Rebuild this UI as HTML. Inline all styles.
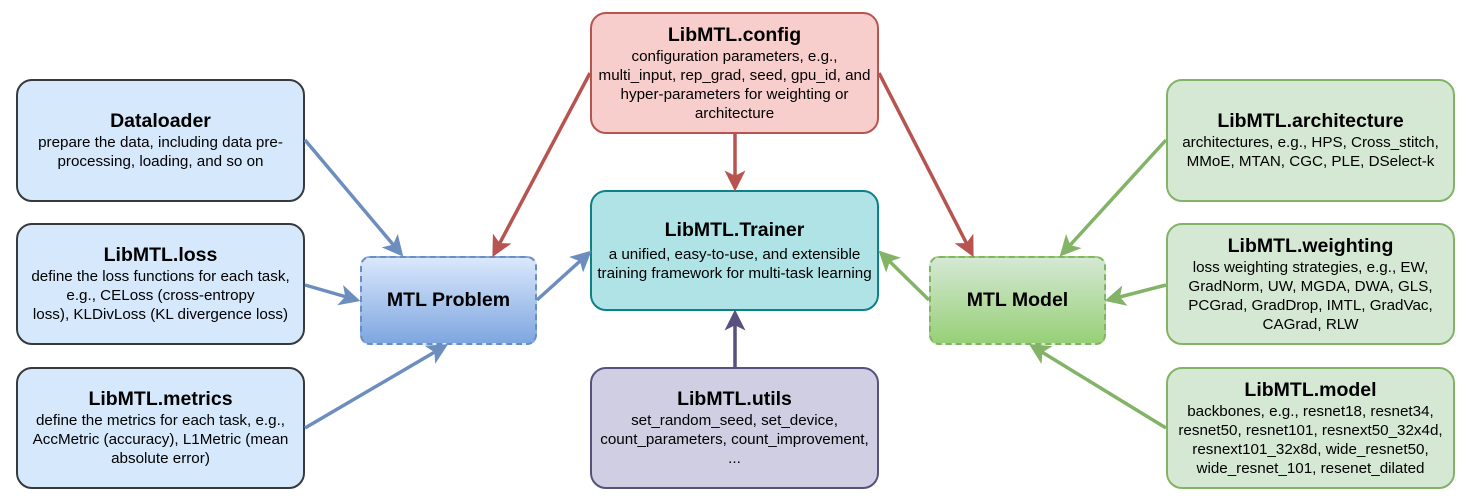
<!DOCTYPE html>
<html><head><meta charset="utf-8"><style>
body{margin:0;width:1466px;height:498px;background:#fff;position:relative;overflow:hidden;font-family:"Liberation Sans",Arial,sans-serif}
.b{position:absolute;box-sizing:border-box;border:2px solid #333;border-radius:16px;display:flex;flex-direction:column;justify-content:center;align-items:center;text-align:center;color:#000;font-size:15.2px;line-height:19px;padding:0 2px;white-space:nowrap}
.b h{display:block;font-weight:bold;font-size:19.5px;line-height:23px;margin-bottom:0px}
.blue{background:#d6e8fb;border-color:#36393d}
.green{background:#d5e8d4;border-color:#82b366}
.red{background:#f8cecc;border-color:#b85450}
.teal{background:#b0e3e6;border-color:#0e8088}
.pur{background:#d0cee2;border-color:#56517e}
svg{position:absolute;left:0;top:0}
</style></head><body>
<div class="b blue" style="left:16px;top:79px;width:289px;height:123px"><h>Dataloader</h>prepare the data, including data pre-<br>processing, loading, and so on</div>
<div class="b blue" style="left:16px;top:223px;width:289px;height:122px"><h>LibMTL.loss</h>define the loss functions for each task,<br>e.g., CELoss (cross-entropy<br>loss), KLDivLoss (KL divergence loss)</div>
<div class="b blue" style="left:16px;top:367px;width:289px;height:122px"><h>LibMTL.metrics</h>define the metrics for each task, e.g.,<br>AccMetric (accuracy), L1Metric (mean<br>absolute error)</div>
<div class="b" style="left:360px;top:256px;width:177px;height:89px;border:2px dashed #6c8ebf;border-radius:10px;background:linear-gradient(#dae8fc,#7ea6e0)"><h style="font-size:19.5px">MTL Problem</h></div>
<div class="b red" style="left:590px;top:12px;width:289px;height:122px"><h>LibMTL.config</h>configuration parameters, e.g.,<br>multi_input, rep_grad, seed, gpu_id, and<br>hyper-parameters for weighting or<br>architecture</div>
<div class="b teal" style="left:590px;top:190px;width:289px;height:121px"><h style="margin-bottom:3px">LibMTL.Trainer</h>a unified, easy-to-use, and extensible<br>training framework for multi-task learning</div>
<div class="b pur" style="left:590px;top:367px;width:289px;height:122px"><h>LibMTL.utils</h>set_random_seed, set_device,<br>count_parameters, count_improvement,<br>...</div>
<div class="b" style="left:929px;top:256px;width:177px;height:89px;border:2px dashed #82b366;border-radius:10px;background:linear-gradient(#d5e8d4,#97d077)"><h style="font-size:19.5px">MTL Model</h></div>
<div class="b green" style="left:1166px;top:79px;width:289px;height:123px"><h>LibMTL.architecture</h>architectures, e.g., HPS, Cross_stitch,<br>MMoE, MTAN, CGC, PLE, DSelect-k</div>
<div class="b green" style="left:1166px;top:223px;width:289px;height:122px"><h>LibMTL.weighting</h>loss weighting strategies, e.g., EW,<br>GradNorm, UW, MGDA, DWA, GLS,<br>PCGrad, GradDrop, IMTL, GradVac,<br>CAGrad, RLW</div>
<div class="b green" style="left:1166px;top:367px;width:289px;height:122px"><h>LibMTL.model</h>backbones, e.g., resnet18, resnet34,<br>resnet50, resnet101, resnext50_32x4d,<br>resnext101_32x8d, wide_resnet50,<br>wide_resnet_101, resenet_dilated</div>
<svg width="1466" height="498">
<defs>
<marker id="mb" markerWidth="6" markerHeight="6" refX="5" refY="3" orient="auto" markerUnits="strokeWidth"><path d="M0,0 L6,3 L0,6 L1.5,3z" fill="#6c8ebf"/></marker>
<marker id="mr" markerWidth="6" markerHeight="6" refX="5" refY="3" orient="auto" markerUnits="strokeWidth"><path d="M0,0 L6,3 L0,6 L1.5,3z" fill="#b85450"/></marker>
<marker id="mg" markerWidth="6" markerHeight="6" refX="5" refY="3" orient="auto" markerUnits="strokeWidth"><path d="M0,0 L6,3 L0,6 L1.5,3z" fill="#82b366"/></marker>
<marker id="mp" markerWidth="6" markerHeight="6" refX="5" refY="3" orient="auto" markerUnits="strokeWidth"><path d="M0,0 L6,3 L0,6 L1.5,3z" fill="#56517e"/></marker>
</defs>
<g stroke-width="3.5" fill="none">
<line x1="305" y1="140" x2="401" y2="254" stroke="#6c8ebf" marker-end="url(#mb)"/>
<line x1="305" y1="285" x2="357" y2="300" stroke="#6c8ebf" marker-end="url(#mb)"/>
<line x1="305" y1="428" x2="445" y2="346" stroke="#6c8ebf" marker-end="url(#mb)"/>
<line x1="537" y1="300" x2="589" y2="253" stroke="#6c8ebf" marker-end="url(#mb)"/>
<line x1="590" y1="73" x2="494" y2="254" stroke="#b85450" marker-end="url(#mr)"/>
<line x1="735" y1="134" x2="735" y2="188" stroke="#b85450" marker-end="url(#mr)"/>
<line x1="879" y1="73" x2="972" y2="254" stroke="#b85450" marker-end="url(#mr)"/>
<line x1="735" y1="367" x2="735" y2="313" stroke="#56517e" marker-end="url(#mp)"/>
<line x1="929" y1="300" x2="881" y2="253" stroke="#82b366" marker-end="url(#mg)"/>
<line x1="1166" y1="140" x2="1062" y2="254" stroke="#82b366" marker-end="url(#mg)"/>
<line x1="1166" y1="285" x2="1108" y2="300" stroke="#82b366" marker-end="url(#mg)"/>
<line x1="1166" y1="428" x2="1032" y2="346" stroke="#82b366" marker-end="url(#mg)"/>
</g>
</svg>
</body></html>
